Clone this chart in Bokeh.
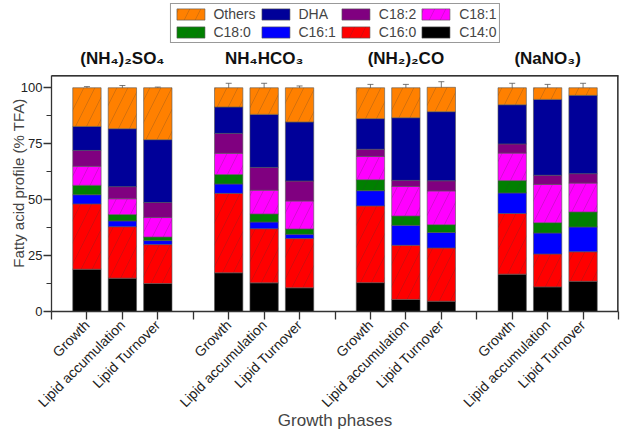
import math
from bokeh.plotting import figure
from bokeh.models import (ColumnDataSource, Legend, LegendItem, FixedTicker,
                          Label, Whisker, Range1d, TeeHead)
from bokeh.embed import file_html
from bokeh.resources import INLINE

# ---- data ----
phases = ["Growth", "Lipid accumulation", "Lipid Turnover"]
treatments = ["(NH\u2084)\u2082SO\u2084", "NH\u2084HCO\u2083", "(NH\u2082)\u2082CO", "(NaNO\u2083)"]
positions = [1, 2, 3, 5, 6, 7, 9, 10, 11, 13, 14, 15]
group_centers = [2, 6, 10, 14]

c14_0 = [18.9, 14.9, 12.5, 17.3, 12.8, 10.6, 12.9, 5.4, 4.6, 16.7, 11.0, 13.5]
c16_0 = [29.2, 23.0, 17.4, 35.5, 24.2, 22.0, 34.3, 24.2, 23.8, 27.1, 14.7, 13.2]
c16_1 = [4.1, 2.6, 1.8, 4.2, 3.0, 1.9, 6.8, 8.9, 6.9, 9.2, 9.4, 11.1]
c18_0 = [4.2, 2.8, 1.6, 4.2, 3.6, 2.4, 4.9, 4.2, 3.5, 5.5, 4.6, 6.7]
c18_1 = [8.5, 7.1, 8.7, 9.5, 10.6, 12.5, 10.4, 13.2, 15.1, 12.3, 17.1, 12.9]
c18_2 = [7.1, 5.4, 6.7, 8.9, 10.2, 8.9, 3.2, 2.7, 4.5, 4.1, 4.1, 4.2]
dha = [10.7, 25.9, 28.1, 11.8, 23.7, 26.4, 13.7, 28.0, 30.9, 17.5, 33.9, 35.0]
others = [17.3, 18.3, 23.2, 8.6, 11.9, 15.3, 13.8, 13.4, 10.9, 7.6, 5.2, 3.4]
top_err = [0.5, 1.0, 0.3, 2.0, 2.0, 0.8, 1.5, 1.5, 2.5, 2.0, 1.5, 2.0]

series_names = ["C14:0", "C16:0", "C16:1", "C18:0", "C18:1", "C18:2", "DHA", "Others"]
series_data = [c14_0, c16_0, c16_1, c18_0, c18_1, c18_2, dha, others]
colors = ["#000000", "#FF0000", "#0000FF", "#008000", "#FF00FF", "#800080", "#000099", "#FF8000"]
hatches = [" ", "/", " ", "/", "/", " ", " ", "/"]
legend_order = ["Others", "DHA", "C18:2", "C18:1", "C18:0", "C16:1", "C16:0", "C14:0"]

Y_TOP = 105.4      # top of the drawn frame
Y_END = 139.0      # extra room above the frame for titles and legend
X_END = 16

data = {"x": positions}
keys = []
for n, vals in zip(series_names, series_data):
    k = n.replace(":", "_")
    keys.append(k)
    data[k] = vals
src = ColumnDataSource(data)

totals = [sum(v) for v in zip(*series_data)]
err_src = ColumnDataSource(dict(x=positions,
                                upper=[t + e for t, e in zip(totals, top_err)],
                                lower=[t - e for t, e in zip(totals, top_err)]))

FONT = "Liberation Sans"
AX = "#333333"

p = figure(width=620, height=432, output_backend="svg", toolbar_location=None,
           x_range=Range1d(0, X_END), y_range=Range1d(0, Y_END),
           min_border_left=51, min_border_right=2, min_border_top=0,
           min_border_bottom=121)
p.grid.visible = False
p.outline_line_color = None

renderers = p.vbar_stack(keys, x="x", width=0.8, source=src,
                         fill_color=colors, line_color="#555555", line_width=0.6,
                         hatch_pattern=hatches, hatch_color="#333333",
                         hatch_alpha=0.35, hatch_scale=22, hatch_weight=0.6)

# frame border (top and right sides), drawn as thin filled strips
p.quad(left=[0, X_END - 0.04], right=[X_END, X_END],
       bottom=[Y_TOP - 0.3, 0], top=[Y_TOP + 0.3, Y_TOP + 0.3],
       fill_color=AX, line_color=None)
p.segment(x0=[0, X_END], y0=[Y_TOP, Y_TOP], x1=[X_END, X_END], y1=[Y_TOP, 0],
          line_color=AX, line_width=1.5)

p.add_layout(Whisker(source=err_src, base="x", upper="upper", lower="lower",
                     line_color="#555555", line_width=0.8,
                     upper_head=TeeHead(size=6, line_color="#555555", line_width=0.8),
                     lower_head=TeeHead(size=6, line_color="#555555", line_width=0.8)))

# axes
xa = p.xaxis[0]
xa.ticker = FixedTicker(ticks=list(range(17)), minor_ticks=[])
labels = {i: "" for i in range(17)}
for pos, lab in zip(positions, phases * 4):
    labels[pos] = lab
xa.major_label_overrides = labels
xa.major_label_orientation = math.pi / 4
xa.major_label_text_font = FONT
xa.major_label_text_font_size = "14px"
xa.major_label_text_color = "#222222"
xa.major_label_standoff = 3
xa.axis_label = "Growth phases"
xa.axis_label_text_font = FONT
xa.axis_label_text_font_style = "normal"
xa.axis_label_text_font_size = "17px"
xa.axis_label_standoff = -8
xa.major_tick_out = 8
xa.major_tick_in = 0
xa.axis_line_color = AX
xa.axis_line_width = 1.3
xa.major_tick_line_color = AX
xa.major_tick_line_width = 1.3

ya = p.yaxis[0]
ya.bounds = (0, Y_TOP)
ya.ticker = FixedTicker(ticks=[0, 25, 50, 75, 100], minor_ticks=[12.5, 37.5, 62.5, 87.5])
ya.major_label_text_font = FONT
ya.major_label_text_font_size = "13px"
ya.major_label_text_color = "#222222"
ya.major_label_standoff = 1
# trailing no-break spaces move the label down so it sits centred on 0-100
ya.axis_label = "Fatty acid profile (% TFA)" + "\u00a0" * 13
ya.axis_label_text_font = FONT
ya.axis_label_text_font_style = "normal"
ya.axis_label_text_font_size = "15px"
ya.axis_label_standoff = -9
ya.major_tick_out = 8
ya.major_tick_in = 0
ya.minor_tick_out = 5
ya.minor_tick_in = 0
ya.axis_line_color = AX
ya.axis_line_width = 1.3
ya.major_tick_line_color = AX
ya.minor_tick_line_color = AX
ya.major_tick_line_width = 1.3

# group titles
for xc, t in zip(group_centers, treatments):
    p.add_layout(Label(x=xc, y=Y_TOP + 3.5, text=t, text_align="center", text_baseline="bottom",
                       text_font=FONT, text_font_style="bold", text_font_size="17px",
                       text_color="#111111"))

# legend
rmap = dict(zip(series_names, renderers))
items = [LegendItem(label=n, renderers=[rmap[n]]) for n in legend_order]
legend = Legend(items=items, orientation="horizontal", ncols=4,
                location="top_center", label_text_font=FONT, label_text_font_size="14px",
                glyph_width=35, glyph_height=14, label_standoff=6, spacing=2,
                padding=2, margin=3, border_line_color=AX, border_line_width=1,
                label_height=14, background_fill_alpha=1.0)
p.add_layout(legend)

open("out.html", "w").write(file_html(p, INLINE))
